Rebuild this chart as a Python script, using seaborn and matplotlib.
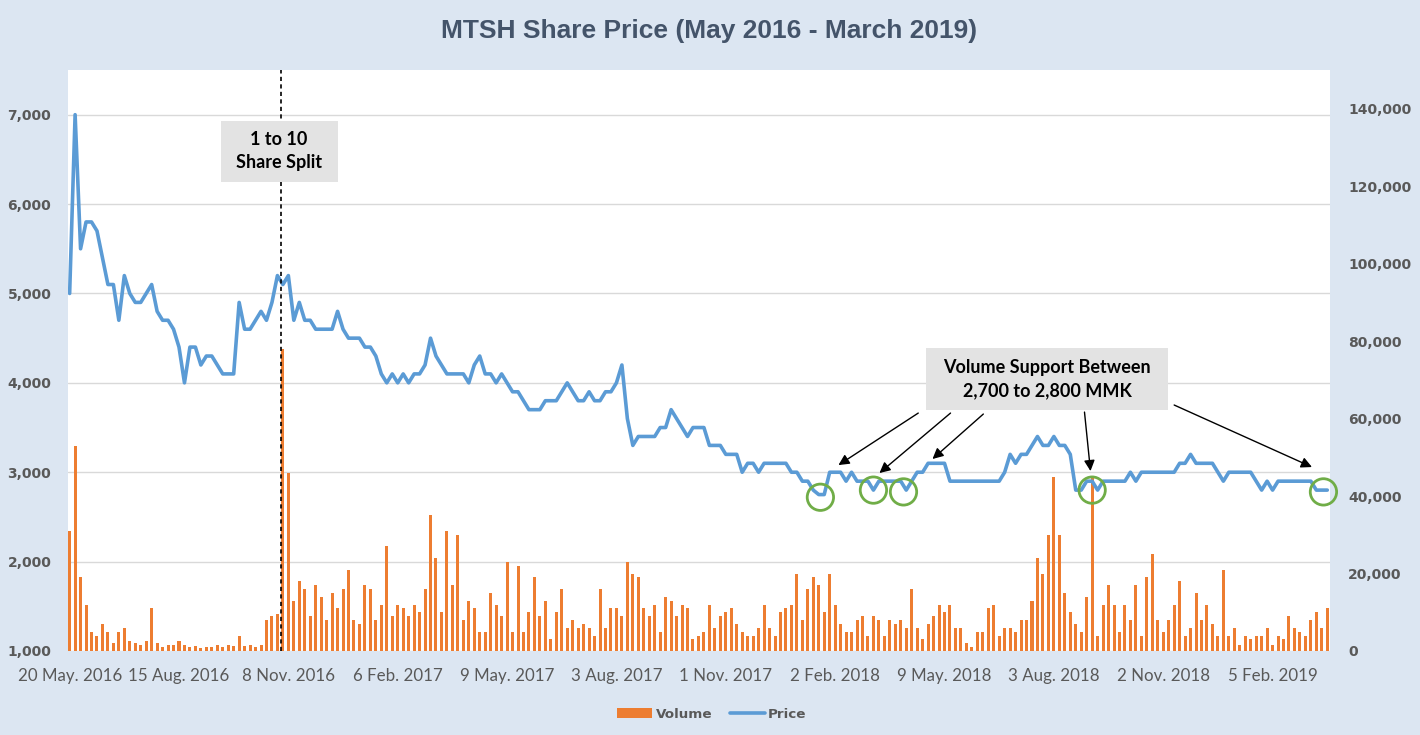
import numpy as np
import pandas as pd
import matplotlib
matplotlib.use("Agg")
import matplotlib.pyplot as plt
from matplotlib.patches import Patch, Rectangle
from matplotlib.lines import Line2D
import seaborn as sns

# ---------------- data (one sample every ~3 trading days) ----------------
price = [
    5000, 7000, 5500, 5800, 5800, 5700, 5400, 5100, 5100, 4700,
    5200, 5000, 4900, 4900, 5000, 5100, 4800, 4700, 4700, 4600,
    4400, 4000, 4400, 4400, 4200, 4300, 4300, 4200, 4100, 4100,
    4100, 4900, 4600, 4600, 4700, 4800, 4700, 4900, 5200, 5100,
    5200, 4700, 4900, 4700, 4700, 4600, 4600, 4600, 4600, 4800,
    4600, 4500, 4500, 4500, 4400, 4400, 4300, 4100, 4000, 4100,
    4000, 4100, 4000, 4100, 4100, 4200, 4500, 4300, 4200, 4100,
    4100, 4100, 4100, 4000, 4200, 4300, 4100, 4100, 4000, 4100,
    4000, 3900, 3900, 3800, 3700, 3700, 3700, 3800, 3800, 3800,
    3900, 4000, 3900, 3800, 3800, 3900, 3800, 3800, 3900, 3900,
    4000, 4200, 3600, 3300, 3400, 3400, 3400, 3400, 3500, 3500,
    3700, 3600, 3500, 3400, 3500, 3500, 3500, 3300, 3300, 3300,
    3200, 3200, 3200, 3000, 3100, 3100, 3000, 3100, 3100, 3100,
    3100, 3100, 3000, 3000, 2900, 2900, 2800, 2750, 2750, 3000,
    3000, 3000, 2900, 3000, 2900, 2900, 2900, 2800, 2900, 2900,
    2900, 2900, 2900, 2800, 2900, 3000, 3000, 3100, 3100, 3100,
    3100, 2900, 2900, 2900, 2900, 2900, 2900, 2900, 2900, 2900,
    2900, 3000, 3200, 3100, 3200, 3200, 3300, 3400, 3300, 3300,
    3400, 3300, 3300, 3200, 2800, 2800, 2900, 2900, 2800, 2900,
    2900, 2900, 2900, 2900, 3000, 2900, 3000, 3000, 3000, 3000,
    3000, 3000, 3000, 3100, 3100, 3200, 3100, 3100, 3100, 3100,
    3000, 2900, 3000, 3000, 3000, 3000, 3000, 2900, 2800, 2900,
    2800, 2900, 2900, 2900, 2900, 2900, 2900, 2900, 2800, 2800, 2800,
]

volume = [
    31000, 53000, 19000, 12000, 5000, 4000, 7000, 5000, 2000, 5000,
    6000, 2500, 2000, 1500, 2500, 11000, 2000, 1000, 1500, 1500,
    2500, 1500, 1000, 1200, 800, 1000, 1000, 1500, 1000, 1500,
    1200, 4000, 1200, 1500, 1000, 1500, 8000, 9000, 9500, 78000,
    46000, 13000, 18000, 16000, 9000, 17000, 14000, 8000, 15000, 11000,
    16000, 21000, 8000, 7000, 17000, 16000, 8000, 12000, 27000, 9000,
    12000, 11000, 9000, 12000, 10000, 16000, 35000, 24000, 10000, 31000,
    17000, 30000, 8000, 13000, 11000, 5000, 5000, 15000, 12000, 9000,
    23000, 5000, 22000, 5000, 10000, 19000, 9000, 13000, 3000, 10000,
    16000, 6000, 8000, 6000, 7000, 6000, 4000, 16000, 6000, 11000,
    11000, 9000, 23000, 20000, 19000, 11000, 9000, 12000, 5000, 14000,
    13000, 9000, 12000, 11000, 3000, 4000, 5000, 12000, 6000, 9000,
    10000, 11000, 7000, 5000, 4000, 4000, 6000, 12000, 6000, 4000,
    10000, 11000, 12000, 20000, 8000, 16000, 19000, 17000, 10000, 20000,
    12000, 7000, 5000, 5000, 8000, 9000, 4000, 9000, 8000, 4000,
    8000, 7000, 8000, 6000, 16000, 6000, 3000, 7000, 9000, 12000,
    10000, 12000, 6000, 6000, 2000, 1000, 5000, 5000, 11000, 12000,
    4000, 6000, 6000, 5000, 8000, 8000, 13000, 24000, 20000, 30000,
    45000, 30000, 15000, 10000, 7000, 5000, 14000, 45000, 4000, 12000,
    17000, 12000, 5000, 12000, 8000, 17000, 4000, 19000, 25000, 8000,
    5000, 8000, 12000, 18000, 4000, 6000, 15000, 8000, 12000, 7000,
    4000, 21000, 4000, 6000, 1500, 4000, 3000, 4000, 4000, 6000,
    1500, 4000, 3000, 9000, 6000, 5000, 4000, 8000, 10000, 6000, 11000,
]

tick_labels = ["20 May. 2016", "15 Aug. 2016", "8 Nov. 2016", "6 Feb. 2017",
               "9 May. 2017", "3 Aug. 2017", "1 Nov. 2017", "2 Feb. 2018",
               "9 May. 2018", "3 Aug. 2018", "2 Nov. 2018", "5 Feb. 2019"]
tick_every = 20
price_ticks = [1000, 2000, 3000, 4000, 5000, 6000, 7000]
volume_ticks = [0, 20000, 40000, 60000, 80000, 100000, 120000, 140000]

split_pos = 38.6
support_x = [137.3, 147.0, 152.5, 187.0, 229.3]
support_y = [2720, 2800, 2780, 2800, 2780]

# ---------------- style ----------------
BG = "#dce6f2"
ORANGE = "#ed7d31"
BLUE = "#5b9bd5"
GREEN = "#70ad47"
TXT = "#595959"
GRID = "#d9d9d9"
BOX = "#e3e3e3"

sns.set_theme(style="white")
plt.rcParams["font.family"] = ["DejaVu Sans"]

W, H = 1420, 735
fig = plt.figure(figsize=(W / 100, H / 100), dpi=100, facecolor=BG)
ax = fig.add_axes([68 / W, (H - 651) / H, (1330 - 68) / W, (651 - 70) / H])
ax.set_facecolor("white")

df = pd.DataFrame({"idx": np.arange(len(price)), "price": price, "volume": volume})

P_MIN, P_MAX = 1000, 7500
V_MIN, V_MAX = 0, 150000

# gridlines (price levels) drawn on the volume axis so they sit behind bars
for p in price_ticks:
    ax.axhline((p - P_MIN) / (P_MAX - P_MIN) * V_MAX, color=GRID, lw=1, zorder=0)

sns.barplot(data=df, x="idx", y="volume", ax=ax, color=ORANGE, width=0.55,
            errorbar=None, native_scale=True, saturation=1, linewidth=0, zorder=2)
ax.set_ylim(V_MIN, V_MAX)
ax.set_xlim(-0.3, len(price) - 0.5)

ax2 = ax.twinx()
sns.lineplot(data=df, x="idx", y="price", ax=ax2, color=BLUE, lw=2.6, zorder=3)
ax2.set_ylim(P_MIN, P_MAX)
ax2.set_xlim(-0.3, len(price) - 0.5)

# axes cosmetics
ax2.yaxis.tick_left()
ax.yaxis.tick_right()
ax2.set_yticks(price_ticks)
ax2.set_yticklabels([f"{v:,}" for v in price_ticks])
ax.set_yticks(volume_ticks)
ax.set_yticklabels([f"{v:,}" for v in volume_ticks])
xt = np.arange(0, len(tick_labels) * tick_every, tick_every)
ax.set_xticks(xt)
ax.set_xticklabels(tick_labels, fontfamily="Lato", fontsize=12.2, color=TXT)
ax.tick_params(axis="x", length=0, pad=12)
ax.tick_params(axis="y", length=0, pad=13, labelsize=10, labelcolor=TXT)
ax2.tick_params(axis="y", length=0, pad=12, labelsize=10, labelcolor=TXT)
for lab in ax.get_yticklabels() + ax2.get_yticklabels():
    lab.set_fontweight("bold")
for a in (ax, ax2):
    for s in a.spines.values():
        s.set_visible(False)
    a.set_xlabel("")
    a.set_ylabel("")
    a.grid(False)

# split marker
ax2.axvline(split_pos, color="black", lw=1.2, ls=(0, (2.5, 2)), zorder=4)
ax2.add_patch(Rectangle((27.6, 6246), 21.4, 682, facecolor=BOX, edgecolor="none", zorder=5))
ax2.text(38.3, 6590, "1 to 10\nShare Split", ha="center", va="center", fontsize=13,
         fontweight="bold", fontfamily="Lato", color="black", linespacing=1.45, zorder=6)

# volume support box
ax2.add_patch(Rectangle((156.7, 3696), 44.2, 693, facecolor=BOX, edgecolor="none", zorder=5))
ax2.text(178.8, 4043, "Volume Support Between\n2,700 to 2,800 MMK", ha="center", va="center",
         fontsize=13, fontweight="bold", fontfamily="Lato", color="black",
         linespacing=1.45, zorder=6)

arrows = [((140.6, 3080), (155.2, 3662)),
          ((148.1, 2991), (161.1, 3662)),
          ((157.8, 3148), (167.1, 3651)),
          ((186.7, 3013), (185.6, 3673)),
          ((227.2, 3058), (202.0, 3752))]
for tip, tail in arrows:
    ax2.annotate("", xy=tip, xytext=tail,
                 arrowprops=dict(arrowstyle="-|>", color="black", lw=1.0,
                                 mutation_scale=16, shrinkA=0, shrinkB=0), zorder=6)

ax2.scatter(support_x, support_y, s=360, facecolors="none", edgecolors=GREEN,
            linewidths=2, zorder=7, clip_on=False)

# title
fig.text(709 / W, 1 - 31 / H, "MTSH Share Price (May 2016 - March 2019)", ha="center",
         va="center", fontsize=19, fontweight="bold", color="#44546a",
         fontfamily="Liberation Sans")

# legend
handles = [Patch(facecolor=ORANGE, edgecolor="none", label="Volume"),
           Line2D([], [], color=BLUE, lw=2.6, label="Price")]
fig.legend(handles=handles, loc="center", bbox_to_anchor=(712 / W, 1 - 714 / H), ncol=2,
           frameon=False, prop=dict(family="DejaVu Sans", weight="bold", size=9.7),
           labelcolor=TXT, handlelength=2.6, handletextpad=0.25, columnspacing=1.3)

fig.savefig("out.png", dpi=100, facecolor=BG)
